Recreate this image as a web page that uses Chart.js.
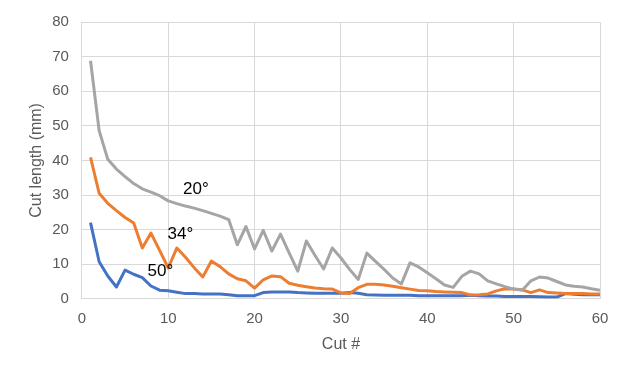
<!DOCTYPE html>
<html>
<head>
<meta charset="utf-8">
<script src="https://cdn.jsdelivr.net/npm/chart.js@4.4.0/dist/chart.umd.min.js"></script>
<style>
  html, body { margin: 0; padding: 0; background: #fff; }
  #wrap { width: 628px; height: 376px; }
</style>
</head>
<body>
<div id="wrap"><canvas id="my-chart" width="628" height="376"></canvas></div>
<script>
let cuts = [1,2,3,4,5,6,7,8,9,10,11,12,13,14,15,16,17,18,19,20,
            21,22,23,24,25,26,27,28,29,30,31,32,33,34,35,36,37,38,39,40,
            41,42,43,44,45,46,47,48,49,50,51,52,53,54,55,56,57,58,59,60]

let deg20 = [68.8, 48.6, 40.3, 37.5, 35.3, 33.3, 31.8, 30.8, 29.8, 28.3,
             27.5, 26.8, 26.2, 25.5, 24.7, 23.9, 22.9, 15.6, 20.9, 14.4,
             19.8, 13.8, 18.7, 13.3, 8.0, 16.7, 12.5, 8.6, 14.7, 11.8,
             8.5, 5.6, 13.2, 10.8, 8.5, 6.0, 4.3, 10.4, 9.2, 7.5,
             5.8, 4.0, 3.3, 6.5, 8.0, 7.2, 5.2, 4.3, 3.5, 2.8,
             2.5, 5.2, 6.3, 6.0, 5.0, 4.0, 3.6, 3.4, 2.9, 2.5]

let deg34 = [40.9, 30.5, 27.6, 25.5, 23.5, 21.9, 14.7, 19.0, 14.0, 8.9,
             14.7, 12.0, 9.0, 6.3, 10.9, 9.3, 7.2, 5.8, 5.2, 3.1,
             5.5, 6.6, 6.4, 4.5, 3.9, 3.5, 3.1, 2.9, 2.8, 1.7,
             1.5, 3.2, 4.2, 4.2, 4.0, 3.6, 3.2, 2.8, 2.4, 2.3,
             2.1, 2.0, 1.9, 1.8, 1.1, 1.2, 1.4, 2.3, 2.9, 2.8,
             2.6, 1.8, 2.6, 1.8, 1.7, 1.5, 1.5, 1.5, 1.4, 1.4]

let deg50 = [22.0, 10.7, 6.6, 3.4, 8.3, 7.1, 6.1, 3.7, 2.5, 2.3,
             1.9, 1.5, 1.5, 1.4, 1.4, 1.4, 1.2, 0.9, 0.9, 0.9,
             1.8, 2.0, 2.0, 2.0, 1.8, 1.7, 1.6, 1.6, 1.6, 1.6,
             1.8, 1.6, 1.2, 1.1, 1.0, 1.0, 1.0, 1.0, 0.9, 0.9,
             0.9, 0.9, 0.9, 0.9, 1.0, 0.9, 0.8, 0.8, 0.7, 0.7,
             0.7, 0.7, 0.6, 0.5, 0.5, 1.5, 1.3, 1.2, 1.2, 1.2]

let seriesLabels = ["20°", "34°", "50°"]
let seriesColors = ["#A5A5A5", "#ED7D31", "#4472C4"]
// where each label sits, in data units (cut #, mm)
let labelX = [13.2, 11.4, 9.1]
let labelY = [31.7, 18.7, 8.0]

let xTicks = [0, 10, 20, 30, 40, 50, 60]

function points(ys) {
    return cuts.map((c, i) => ({x: c, y: ys[i]}))
}

const fam = "'Liberation Sans', Arial, sans-serif"

const seriesText = {
    id: "seriesText",
    afterDatasetsDraw(chart) {
        const {ctx, scales} = chart
        ctx.save()
        ctx.font = "17px " + fam
        ctx.fillStyle = "#000"
        ctx.textAlign = "center"
        ctx.textBaseline = "middle"
        seriesLabels.forEach((t, i) => {
            ctx.fillText(t, scales.x.getPixelForValue(labelX[i]), scales.y.getPixelForValue(labelY[i]))
        })
        ctx.restore()
    }
}

const grey = "#595959"
const gridColor = "#D9D9D9"

new Chart("my-chart", {
    type: "line",
    data: {
        datasets: [deg20, deg34, deg50].map((d, i) => ({
            label: seriesLabels[i],
            data: points(d),
            borderColor: seriesColors[i],
            backgroundColor: seriesColors[i],
            borderWidth: 3,
            pointRadius: 0,
            tension: 0,
            borderJoinStyle: "round"
        }))
    },
    options: {
        responsive: false,
        animation: false,
        layout: {padding: {left: 27, right: 28, top: 12, bottom: 22}},
        plugins: {
            legend: {display: false},
            tooltip: {enabled: false}
        },
        scales: {
            x: {
                type: "linear",
                min: 0,
                max: 60,
                afterBuildTicks: axis => { axis.ticks = xTicks.map(v => ({value: v})) },
                grid: {color: gridColor, drawTicks: false},
                border: {color: gridColor},
                ticks: {color: grey, padding: 11, font: {size: 15, family: fam}},
                title: {display: true, text: "Cut #", color: grey, padding: {top: -4, bottom: 0}, font: {size: 16, family: fam}}
            },
            y: {
                min: 0,
                max: 80,
                ticks: {stepSize: 10, color: grey, padding: 13, font: {size: 15, family: fam}},
                grid: {color: gridColor, drawTicks: false},
                border: {color: gridColor},
                title: {display: true, text: "Cut length (mm)", color: grey, padding: {top: 0, bottom: -7}, font: {size: 16, family: fam}}
            }
        }
    },
    plugins: [seriesText]
})
</script>
</body>
</html>
